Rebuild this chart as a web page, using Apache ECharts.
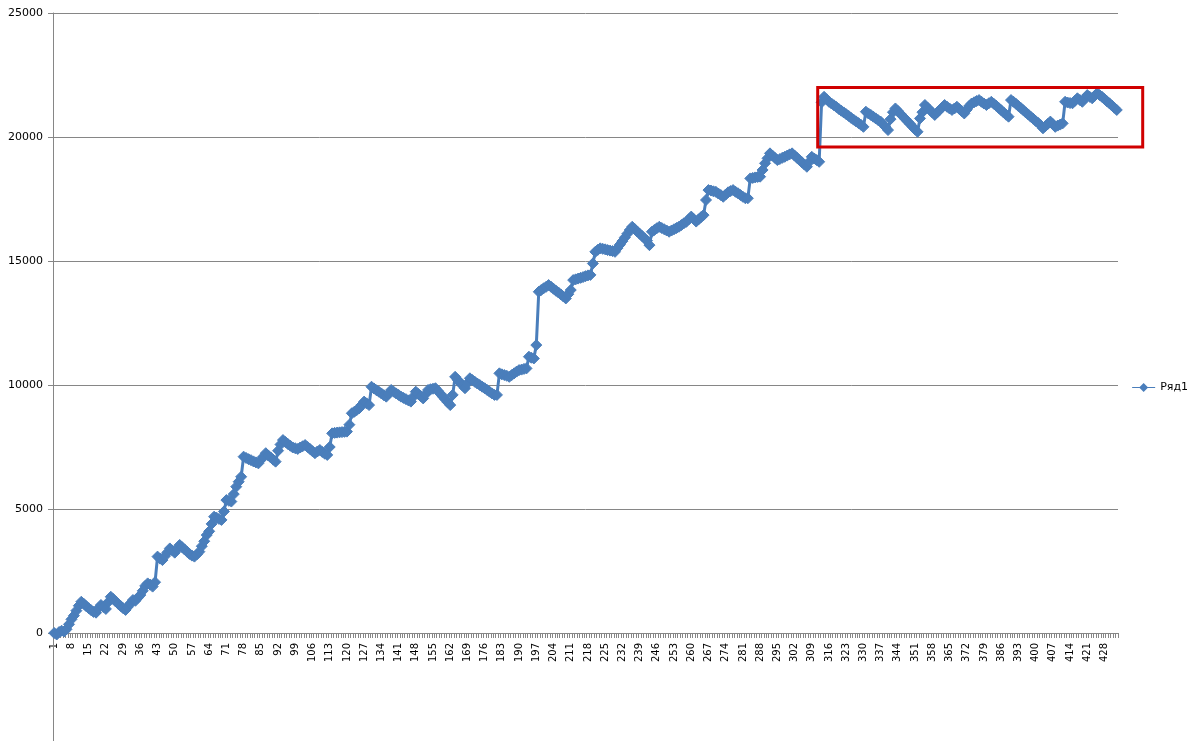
<!DOCTYPE html>
<html>
<head>
<meta charset="utf-8">
<script src="https://cdn.jsdelivr.net/npm/echarts@6/dist/echarts.min.js"></script>
<style>
html,body{margin:0;padding:0;background:#fff;overflow:hidden;}
#chart{width:1195px;height:741px;}
</style>
</head>
<body>
<div id="chart"></div>
<script>
// Series values (Ряд1), one per category 1..433
const values = [
0,-60,40,90,60,150,350,550,700,900,
1100,1260,1180,1080,1000,920,850,820,1000,1130,
1050,970,1250,1460,1370,1270,1180,1090,1000,930,
1060,1200,1330,1300,1420,1530,1700,1900,2000,1950,
1870,2050,3080,3000,2940,3100,3250,3410,3330,3240,
3400,3550,3460,3370,3280,3190,3120,3080,3170,3280,
3500,3700,3950,4100,4400,4690,4650,4600,4560,4900,
5360,5330,5300,5600,5900,6100,6300,7110,7060,7010,
6970,6920,6880,6840,6980,7110,7250,7160,7080,6990,
6910,7350,7600,7780,7700,7620,7550,7480,7450,7420,
7480,7530,7580,7500,7420,7330,7250,7320,7380,7300,
7230,7180,7500,8050,8070,8080,8090,8100,8110,8120,
8400,8860,8920,8990,9060,9200,9330,9260,9190,9930,
9860,9790,9730,9660,9590,9530,9660,9800,9730,9660,
9600,9530,9480,9430,9380,9330,9530,9730,9640,9550,
9460,9630,9800,9830,9850,9870,9760,9650,9530,9420,
9300,9190,9600,10330,10210,10100,9980,9870,10070,10270,
10200,10130,10060,10000,9930,9870,9800,9730,9660,9600,
9600,10470,10430,10400,10370,10330,10400,10470,10540,10600,
10620,10650,10670,11140,11100,11070,11610,13760,13830,13900,
13960,14030,13960,13880,13800,13730,13650,13570,13490,13660,
13830,14230,14260,14290,14320,14350,14390,14420,14440,14900,
15370,15450,15510,15490,15470,15440,15420,15400,15370,15520,
15660,15800,15950,16100,16250,16380,16290,16190,16100,16010,
15910,15820,15640,16180,16250,16320,16380,16330,16280,16230,
16180,16230,16280,16330,16380,16450,16520,16580,16680,16790,
16690,16590,16680,16770,16850,17460,17860,17840,17810,17790,
17720,17660,17590,17680,17770,17820,17860,17790,17730,17660,
17590,17530,17530,18330,18350,18370,18390,18400,18670,18940,
19140,19340,19250,19160,19070,19110,19160,19200,19250,19300,
19340,19250,19160,19070,18980,18890,18800,19000,19200,19130,
19070,19000,21400,21620,21520,21420,21350,21280,21210,21130,
21060,20990,20920,20850,20770,20700,20630,20560,20490,20410,
21020,20950,20890,20820,20750,20680,20620,20510,20400,20280,
20720,21000,21150,21050,20940,20830,20730,20620,20520,20410,
20300,20210,20750,21000,21290,21190,21090,20990,20890,20990,
21090,21190,21290,21220,21150,21090,21150,21220,21130,21040,
20950,21100,21250,21350,21400,21450,21490,21420,21350,21290,
21360,21420,21340,21260,21170,21080,20990,20900,20820,21490,
21420,21340,21250,21170,21080,20990,20910,20820,20740,20650,
20570,20480,20350,20440,20530,20620,20520,20410,20460,20500,
20550,21420,21390,21370,21360,21460,21560,21490,21420,21560,
21690,21620,21560,21660,21760,21690,21620,21530,21440,21360,
21270,21180,21090
];
// Category labels 1..N
const categories = values.map((v, i) => String(i + 1));
const seriesName = 'Ряд1';
const yTicks = { min: 0, max: 25000, interval: 5000 };
const boxRange = { fromCategory: '311', top: 22000, bottom: 19600 };

const chart = echarts.init(document.getElementById('chart'), null, { renderer: 'canvas' });
const grey = '#868686';
const blue = '#4A7EBB';
chart.setOption({
  animation: false,
  backgroundColor: '#ffffff',
  textStyle: { fontFamily: 'DejaVu Sans' },
  grid: { left: 53, top: 13, width: 1065, height: 620, containLabel: false, outerBoundsMode: 'none' },
  legend: {
    show: true,
    right: 2, top: 377,
    itemWidth: 23, itemHeight: 9, itemGap: 5,
    data: [{ name: seriesName, icon: 'path://M0,4 L7.5,4 L11.5,0 L15.5,4 L23,4 L23,5 L15.5,5 L11.5,9 L7.5,5 L0,5 Z' }],
    textStyle: { fontFamily: 'DejaVu Sans', fontSize: 11, color: '#000' }
  },
  xAxis: {
    type: 'category',
    data: categories,
    boundaryGap: true,
    axisLine: { onZero: false, lineStyle: { color: grey, width: 1 } },
    axisTick: { show: true, interval: 0, length: 5, alignWithLabel: false, lineStyle: { color: grey } },
    axisLabel: { interval: 6, rotate: 90, margin: 10, fontSize: 10, color: '#000', fontFamily: 'DejaVu Sans' },
    splitLine: { show: false }
  },
  yAxis: {
    type: 'value',
    min: yTicks.min, max: yTicks.max, interval: yTicks.interval,
    axisLine: { show: true, lineStyle: { color: grey, width: 1 } },
    axisTick: { show: true, length: 5, lineStyle: { color: grey } },
    axisLabel: { margin: 10, fontSize: 11, color: '#000', fontFamily: 'DejaVu Sans', formatter: v => String(v) },
    splitLine: { show: true, lineStyle: { color: grey, width: 1 } }
  },
  series: [{
    name: seriesName,
    type: 'line',
    data: values,
    symbol: 'diamond',
    symbolSize: 11,
    showAllSymbol: true,
    clip: false,
    lineStyle: { color: blue, width: 3 },
    itemStyle: { color: blue, borderColor: blue },
    z: 3
  }]
});

// red annotation box around the plateau + value-axis line continuing below the category axis
const p1 = chart.convertToPixel({ xAxisIndex: 0, yAxisIndex: 0 }, [boxRange.fromCategory, boxRange.top]);
const p2 = chart.convertToPixel({ xAxisIndex: 0, yAxisIndex: 0 }, [boxRange.fromCategory, boxRange.bottom]);
const origin = chart.convertToPixel({ yAxisIndex: 0 }, 0);
chart.setOption({
  graphic: [{
    type: 'rect',
    shape: { x: p1[0] + 1, y: p1[1], width: 325, height: p2[1] - p1[1] },
    style: { fill: 'none', stroke: '#D00000', lineWidth: 3 },
    z: 10
  }, {
    type: 'line',
    shape: { x1: 53.5, y1: origin, x2: 53.5, y2: 741 },
    style: { stroke: grey, lineWidth: 1 },
    z: 1
  }]
});
</script>
</body>
</html>
